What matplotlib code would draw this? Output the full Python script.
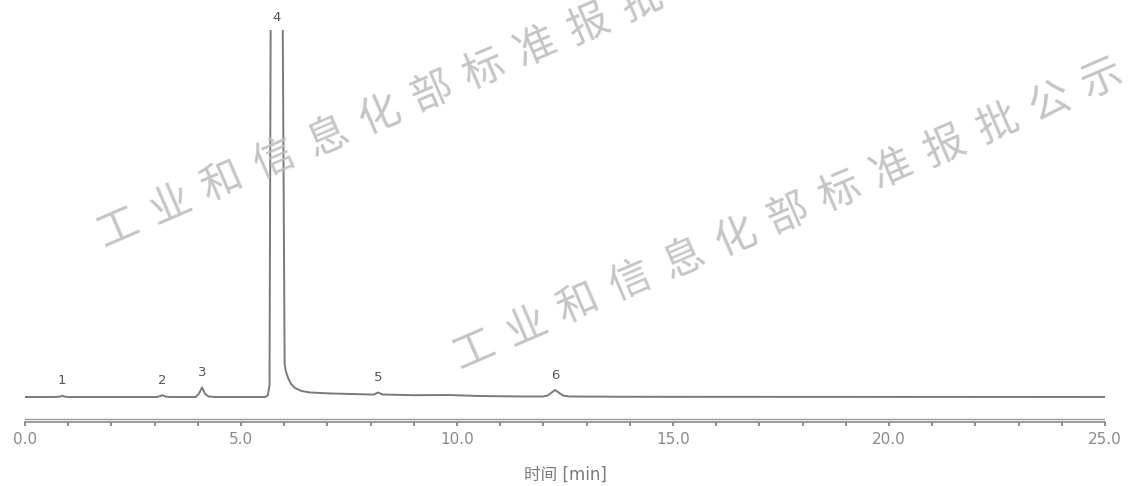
import matplotlib
matplotlib.use("Agg")
import matplotlib.pyplot as plt
import numpy as np

plt.rcParams['font.family'] = ['DejaVu Sans', 'Noto Sans CJK SC']

# ---- data ----
# trace points (time in min, signal in arbitrary units; baseline = 0)
trace_time = [0.00, 0.70, 0.80, 0.86, 0.92, 1.00,
              3.05, 3.12, 3.18, 3.25, 3.35,
              3.95, 4.02, 4.10, 4.17, 4.25, 4.40,
              5.55, 5.62, 5.66, 5.69, 5.83, 5.96, 6.01, 6.05, 6.10, 6.16,
              6.25, 6.40, 6.60, 7.10, 8.00, 8.08, 8.17, 8.28,
              9.00, 9.80, 10.50, 11.50, 12.00, 12.10, 12.27, 12.45,
              12.60, 14.00, 25.00]
trace_signal = [0.0, 0.0, 0.3, 1.2, 0.3, 0.0,
                0.0, 0.8, 1.8, 0.5, 0.0,
                0.0, 3.0, 9.5, 3.0, 0.5, 0.0,
                0.0, 1.5, 12.0, 420.0, 1000.0, 420.0, 32.0, 24.0, 18.0, 13.0,
                9.0, 6.0, 4.5, 3.5, 2.5, 2.5, 4.5, 2.5,
                1.8, 2.0, 1.0, 0.5, 0.5, 1.5, 7.0, 1.5,
                0.5, 0.2, 0.0]

peak_labels = ['1', '2', '3', '4', '5', '6']
peak_times = [0.86, 3.18, 4.10, 5.83, 8.17, 12.27]
peak_heights = [1.2, 1.8, 9.5, 1000.0, 4.5, 7.0]

xticks_major = [0.0, 5.0, 10.0, 15.0, 20.0, 25.0]
x_label = '时间 [min]'
watermark = '工业和信息化部标准报批公示'

# ---- figure ----
W, H = 1129, 486
fig = plt.figure(figsize=(W / 100, H / 100), dpi=100)
ax = fig.add_axes([25 / W, (H - 422) / H, (1105 - 25) / W, (422 - 30) / H])

line_col = '#7a7a7a'
ymin, ymax = -25, 367
ax.plot(trace_time, trace_signal, color=line_col, lw=1.4, zorder=3,
        solid_joinstyle='round')
ax.set_xlim(0, 25)
ax.set_ylim(ymin, ymax)

# peak labels
for lab, t, h in zip(peak_labels, peak_times, peak_heights):
    y = min(h, ymax)
    off = 4 if h > ymax else 6
    ax.annotate(lab, (t, y), xytext=(0, off), textcoords='offset points',
                ha='center', va='bottom', fontsize=9.5, color='#555555',
                annotation_clip=False)

# axes styling
for s in ['top', 'right', 'left']:
    ax.spines[s].set_visible(False)
ax.spines['bottom'].set_color('#8a8a8a')
ax.spines['bottom'].set_linewidth(1.2)
ax.axhline(ymin + 3.5, color='#9a9a9a', lw=1.0, zorder=2)
ax.set_yticks([])
ax.set_xticks(xticks_major)
ax.set_xticklabels([f'{v:.1f}' for v in xticks_major])
ax.set_xticks(np.arange(0, 26, 1), minor=True)
ax.tick_params(axis='x', which='both', direction='out', length=3, width=1.2,
               color='#777777', labelsize=11, labelcolor='#8a8a8a', pad=4)
ax.set_xlabel(x_label, fontsize=12, color='#7a7a7a', labelpad=14,
              family=['DejaVu Sans', 'Noto Sans CJK SC'])

# watermarks (drawn character by character along a slanted line)
ang = 23.3
step = 57
rad = np.deg2rad(ang)
for (x0, y0) in [(118, 228), (474, 350)]:
    for i, ch in enumerate(watermark):
        px = x0 + i * step * np.cos(rad)
        py = y0 - i * step * np.sin(rad)
        fig.text(px / W, 1 - py / H, ch, fontsize=30, color='#bfbfbf',
                 family='Noto Sans CJK SC', rotation=ang, ha='center',
                 va='center', rotation_mode='anchor', zorder=0, alpha=0.9)

fig.savefig('out.png', dpi=100)
